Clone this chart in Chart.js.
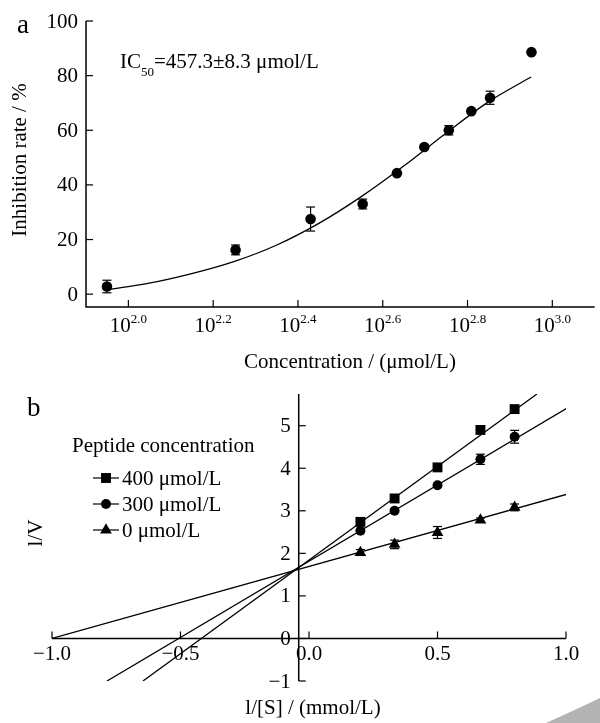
<!DOCTYPE html>
<html>
<head>
<meta charset="utf-8">
<script src="https://cdn.jsdelivr.net/npm/chart.js@4.4.0/dist/chart.umd.min.js"></script>
<style>
  html, body { margin: 0; padding: 0; background: #fff; }
  canvas { position: absolute; left: 0; }
  #chartA { top: 0; }
  #chartB { top: 380px; }
</style>
</head>
<body>
<canvas id="chartA" width="600" height="380"></canvas>
<canvas id="chartB" width="600" height="343"></canvas>
<script>
// ---- panel a: dose-response ----
const concA = [89, 179, 269, 357, 430, 499, 570, 644, 713, 893];
const inhibA = [2.8, 16.2, 27.5, 33.0, 44.3, 53.9, 60.0, 67.0, 71.9, 88.6];
const errA = [2.3, 1.8, 4.4, 1.8, 0, 0, 1.7, 0, 2.4, 0];
// fitted curve as drawn in the figure
const fitConcA = [89, 112, 141, 178, 224, 282, 355, 447, 562, 708, 891];
const fitInhibA = [1.6, 4.0, 7.5, 12.0, 18.0, 26.0, 35.8, 47.0, 59.0, 70.5, 79.5];
const yTicksA = [0, 20, 40, 60, 80, 100];
const xTickExpA = [2.0, 2.2, 2.4, 2.6, 2.8, 3.0];

// ---- panel b: Lineweaver-Burk ----
const invS = [0.2, 0.333, 0.5, 0.667, 0.8];
const invV400 = [2.74, 3.29, 4.02, 4.90, 5.39];
const invV300 = [2.53, 3.00, 3.60, 4.21, 4.74];
const invV0 = [2.02, 2.21, 2.49, 2.78, 3.08];
const err400 = [0, 0, 0, 0.08, 0];
const err300 = [0, 0, 0, 0.12, 0.15];
const err0 = [0.07, 0.1, 0.14, 0.05, 0.08];
const fitX400 = [-0.646, 0.887], fitY400 = [-1.0, 5.745];
const fitX300 = [-0.786, 1.004], fitY300 = [-1.0, 5.41];
const fitX0 = [-1.0, 1.004], fitY0 = [0.0, 3.39];
const seriesNames = ['400 μmol/L', '300 μmol/L', '0 μmol/L'];
const yTicksB = [-1, 0, 1, 2, 3, 4, 5];
const xTicksB = [-1, -0.5, 0, 0.5, 1];
const xTickLabelsB = ['−1.0', '−0.5', '0.0', '0.5', '1.0'];
const yAxisCrossB = -0.04;

const SERIF = '"Liberation Serif", "Times New Roman", serif';
const FONT = '21px ' + SERIF;

function seg(ctx, x1, y1, x2, y2) {
  ctx.beginPath(); ctx.moveTo(x1, y1); ctx.lineTo(x2, y2); ctx.stroke();
}

function pts(xs, ys) {
  return xs.map((v, i) => ({ x: v, y: ys[i] }));
}

// vertical error bars with caps, from ds.errors
const errorBars = {
  id: 'errorBars',
  afterDatasetsDraw(chart) {
    const { ctx, scales: { x, y } } = chart;
    ctx.save();
    ctx.strokeStyle = '#000';
    ctx.lineWidth = 1.2;
    chart.data.datasets.forEach(ds => {
      if (!ds.errors) return;
      ds.data.forEach((p, j) => {
        const e = ds.errors[j];
        if (!e) return;
        const px = x.getPixelForValue(p.x);
        const top = y.getPixelForValue(p.y + e);
        const bot = y.getPixelForValue(p.y - e);
        seg(ctx, px, top, px, bot);
        seg(ctx, px - 4.5, top, px + 4.5, top);
        seg(ctx, px - 4.5, bot, px + 4.5, bot);
      });
    });
    ctx.restore();
  }
};

const axesA = {
  id: 'axesA',
  afterDraw(chart) {
    const { ctx, chartArea: ca, scales: { x, y } } = chart;
    ctx.save();
    ctx.strokeStyle = '#000';
    ctx.fillStyle = '#000';
    ctx.lineWidth = 1.5;
    ctx.beginPath();
    ctx.moveTo(ca.left, ca.top);
    ctx.lineTo(ca.left, ca.bottom);
    ctx.lineTo(ca.right, ca.bottom);
    ctx.stroke();

    ctx.lineWidth = 1.2;
    ctx.font = FONT;
    ctx.textAlign = 'right';
    ctx.textBaseline = 'middle';
    yTicksA.forEach(v => {
      const py = y.getPixelForValue(v);
      seg(ctx, ca.left, py, ca.left + 7, py);
      ctx.fillText(String(v), ca.left - 8, py + 1);
    });

    // 10^n labels with superscript
    ctx.textAlign = 'left';
    ctx.textBaseline = 'alphabetic';
    xTickExpA.forEach(e => {
      const px = x.getPixelForValue(Math.pow(10, e));
      seg(ctx, px, ca.bottom, px, ca.bottom - 7);
      const sup = e.toFixed(1);
      ctx.font = FONT;
      const w1 = ctx.measureText('10').width;
      ctx.font = '13px ' + SERIF;
      const w2 = ctx.measureText(sup).width;
      const x0 = px - (w1 + w2) / 2;
      ctx.font = FONT;
      ctx.fillText('10', x0, ca.bottom + 25);
      ctx.font = '13px ' + SERIF;
      ctx.fillText(sup, x0 + w1, ca.bottom + 16);
    });

    // axis titles
    ctx.font = FONT;
    ctx.textAlign = 'center';
    ctx.textBaseline = 'middle';
    ctx.fillText('Concentration / (μmol/L)', 350, 362);
    ctx.save();
    ctx.translate(20, 160);
    ctx.rotate(-Math.PI / 2);
    ctx.fillText('Inhibition rate / %', 0, 0);
    ctx.restore();

    // panel letter
    ctx.textAlign = 'left';
    ctx.textBaseline = 'alphabetic';
    ctx.font = '27px ' + SERIF;
    ctx.fillText('a', 17, 33);

    // IC50 annotation
    ctx.font = FONT;
    ctx.fillText('IC', 120, 68);
    let tx = 120 + ctx.measureText('IC').width;
    ctx.font = '13px ' + SERIF;
    ctx.fillText('50', tx, 76);
    tx += ctx.measureText('50').width;
    ctx.font = FONT;
    ctx.fillText('=457.3±8.3 μmol/L', tx, 68);
    ctx.restore();
  }
};

const axesB = {
  id: 'axesB',
  afterDraw(chart) {
    const { ctx, scales: { x, y } } = chart;
    const ax = x.getPixelForValue(yAxisCrossB);
    const ay = y.getPixelForValue(0);
    ctx.save();
    ctx.strokeStyle = '#000';
    ctx.fillStyle = '#000';
    ctx.lineWidth = 1.5;
    seg(ctx, ax, y.getPixelForValue(y.max), ax, y.getPixelForValue(y.min));
    seg(ctx, x.getPixelForValue(-1), ay, x.getPixelForValue(1), ay);

    ctx.lineWidth = 1.2;
    ctx.font = FONT;
    ctx.textAlign = 'right';
    ctx.textBaseline = 'middle';
    yTicksB.forEach(v => {
      const py = y.getPixelForValue(v);
      seg(ctx, ax, py, ax + 7, py);
      ctx.fillText(v < 0 ? '−' + Math.abs(v) : String(v), ax - 8, py + 1);
    });
    ctx.textAlign = 'center';
    xTicksB.forEach((v, i) => {
      const px = x.getPixelForValue(v);
      seg(ctx, px, ay, px, ay - 7);
      ctx.fillText(xTickLabelsB[i], px, ay + 16);
    });

    ctx.fillText('l/[S] / (mmol/L)', 313, 328);
    ctx.save();
    ctx.translate(36, 153);
    ctx.rotate(-Math.PI / 2);
    ctx.fillText('l/V', 0, 0);
    ctx.restore();

    ctx.textAlign = 'left';
    ctx.textBaseline = 'alphabetic';
    ctx.font = '27px ' + SERIF;
    ctx.fillText('b', 27, 36);

    // legend
    ctx.font = FONT;
    ctx.textBaseline = 'middle';
    ctx.fillText('Peptide concentration', 72, 66);
    const markers = chart.data.datasets.filter(d => d.errors);
    const rows = [98, 124, 150];
    markers.forEach((ds, i) => {
      const ly = rows[i];
      seg(ctx, 93, ly, 119, ly);
      Chart.helpers.drawPoint(ctx, { pointStyle: ds.pointStyle, radius: ds.pointRadius, rotation: 0, borderWidth: 0 }, 106, ly);
      ctx.fillStyle = '#000';
      ctx.fillText(seriesNames[i], 122, ly + 1);
    });

    // grey smudge in the corner of the scan
    ctx.fillStyle = '#b3b3b3';
    ctx.beginPath();
    ctx.moveTo(546, 343);
    ctx.quadraticCurveTo(575, 330, 600, 318);
    ctx.lineTo(600, 343);
    ctx.closePath();
    ctx.fill();
    ctx.restore();
  }
};

new Chart(document.getElementById('chartA'), {
  type: 'scatter',
  data: {
    datasets: [
      {
        type: 'line',
        data: pts(fitConcA, fitInhibA),
        borderColor: '#000',
        borderWidth: 1.3,
        pointRadius: 0,
        cubicInterpolationMode: 'monotone',
        fill: false
      },
      {
        data: pts(concA, inhibA),
        errors: errA,
        backgroundColor: '#000',
        borderColor: '#000',
        pointRadius: 5.3,
        borderWidth: 0
      }
    ]
  },
  options: {
    responsive: false,
    animation: false,
    devicePixelRatio: 1,
    layout: { padding: { left: 86, right: 0, top: 21, bottom: 73 } },
    scales: {
      x: { type: 'logarithmic', display: false, min: Math.pow(10, 1.9), max: Math.pow(10, 3.1) },
      y: { type: 'linear', display: false, min: -4.7, max: 100 }
    },
    plugins: { legend: { display: false }, tooltip: { enabled: false } }
  },
  plugins: [errorBars, axesA]
});

function fitLine(xs, ys) {
  return { type: 'line', data: pts(xs, ys), borderColor: '#000', borderWidth: 1.3, pointRadius: 0, fill: false };
}

function markerSet(ys, errs, style, r) {
  return {
    data: pts(invS, ys),
    errors: errs,
    pointStyle: style,
    pointRadius: r,
    backgroundColor: '#000',
    borderColor: '#000',
    borderWidth: 0
  };
}

new Chart(document.getElementById('chartB'), {
  type: 'scatter',
  data: {
    datasets: [
      fitLine(fitX400, fitY400),
      fitLine(fitX300, fitY300),
      fitLine(fitX0, fitY0),
      markerSet(invV400, err400, 'rect', 7),
      markerSet(invV300, err300, 'circle', 5),
      markerSet(invV0, err0, 'triangle', 6.8)
    ]
  },
  options: {
    responsive: false,
    animation: false,
    devicePixelRatio: 1,
    layout: { padding: { left: 52, right: 34, top: 14, bottom: 42 } },
    scales: {
      x: { type: 'linear', display: false, min: -1, max: 1 },
      y: { type: 'linear', display: false, min: -1, max: 5.745 }
    },
    plugins: { legend: { display: false }, tooltip: { enabled: false } }
  },
  plugins: [errorBars, axesB]
});
</script>
</body>
</html>
